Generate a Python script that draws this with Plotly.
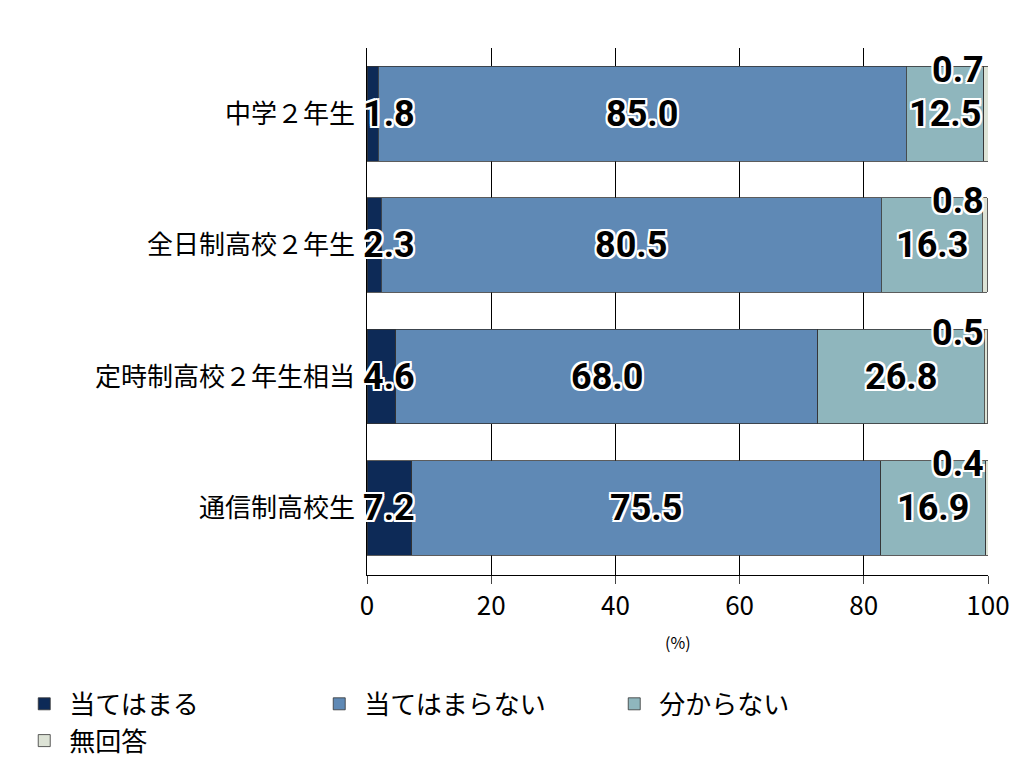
import plotly.graph_objects as go

groups = ['中学２年生', '全日制高校２年生', '定時制高校２年生相当', '通信制高校生']
series = ['当てはまる', '当てはまらない', '分からない', '無回答']
values = [
    [1.8, 2.3, 4.6, 7.2],
    [85.0, 80.5, 68.0, 75.5],
    [12.5, 16.3, 26.8, 16.9],
    [0.7, 0.8, 0.5, 0.4],
]
colors = ['#0d2a57', '#5f89b5', '#8fb6bd', '#dde3d6']

fig = go.Figure()
for name, vals, col in zip(series, values, colors):
    fig.add_trace(go.Bar(y=groups, x=vals, name=name, orientation='h',
                         marker=dict(color=col, line=dict(color='#333333', width=0.8)),
                         width=0.72))

outline = '2px 0 0 white, -2px 0 0 white, 0 2px 0 white, 0 -2px 0 white, 2px 2px 0 white, -2px -2px 0 white, 2px -2px 0 white, -2px 2px 0 white'
lab_font = dict(family='Liberation Sans Narrow, Roboto', size=36, color='black',
                weight='bold', shadow=outline)
for i, g in enumerate(groups):
    start = 0
    for k in range(4):
        v = values[k][i]
        if k == 0:
            fig.add_annotation(x=0, y=g, text=f'{v:.1f}', xanchor='left', xshift=-6,
                               showarrow=False, font=lab_font)
        elif k == 3:
            fig.add_annotation(x=100, y=g, text=f'{v:.1f}', xanchor='right', xshift=-2,
                               yshift=44, showarrow=False, font=lab_font)
        else:
            fig.add_annotation(x=start + v / 2, y=g, text=f'{v:.1f}', showarrow=False,
                               font=lab_font)
        start += v

fig.add_annotation(x=50, y=-0.1, xref='x', yref='paper', text='(%)', showarrow=False,
                   yanchor='top', font=dict(size=16, color='black'))

fig.update_layout(
    barmode='stack', width=1024, height=768, template='none',
    paper_bgcolor='white', plot_bgcolor='white',
    margin=dict(l=331, r=44, t=40, b=178),
    font=dict(family='Noto Sans CJK JP', color='black'),
    legend=dict(orientation='h', x=-0.56, xanchor='left', y=-0.2, yanchor='top',
                font=dict(size=26), traceorder='normal', itemwidth=40,
                entrywidth=240, entrywidthmode='pixels'),
    bargap=0.28,
)
fig.update_xaxes(range=[0, 100], tickvals=[0, 20, 40, 60, 80, 100], showgrid=True,
                 gridcolor='black', gridwidth=1, ticks='outside', ticklen=8,
                 showline=True, linecolor='black', tickfont=dict(size=26), zeroline=False,
                 automargin=False)
fig.update_yaxes(autorange='reversed', tickfont=dict(size=26), showgrid=False,
                 showline=True, linecolor='black', ticks='', ticksuffix=' ',
                 automargin=False)

fig.write_html('out.html')
